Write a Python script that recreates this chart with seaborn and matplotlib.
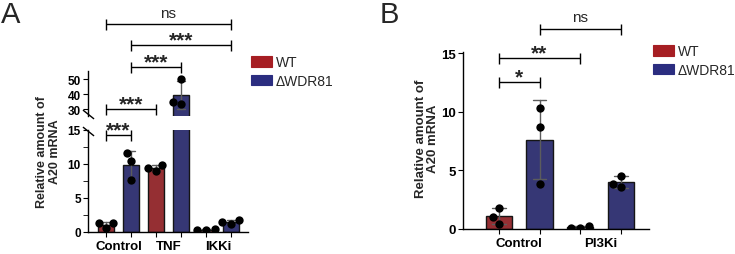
import matplotlib
matplotlib.use("Agg")
import matplotlib.pyplot as plt
import pandas as pd
import seaborn as sns
from matplotlib.patches import Patch
from matplotlib.transforms import blended_transform_factory

# data (3 replicates per bar)
genotypes = ["WT", "ΔWDR81"]
colors = {"WT": "#A61E23", "ΔWDR81": "#2B2D80"}

groups_a = ["Control", "TNF", "IKKi"]
reps_a = [
    [1.35, 1.3, 0.55], [11.6, 10.5, 7.6],
    [9.85, 9.4, 8.9], [50.0, 35.0, 33.5],
    [0.5, 0.3, 0.25], [1.8, 1.4, 1.25],
]
groups_b = ["Control", "PI3Ki"]
reps_b = [
    [1.8, 1.0, 0.45], [10.35, 8.7, 3.85],
    [0.25, 0.12, 0.06], [4.55, 3.8, 3.6],
]

# significance brackets: (bar1, bar2, label)
sig_a = [(0, 1, "***"), (0, 2, "***"), (1, 3, "***"), (1, 5, "***"), (0, 5, "ns")]
sig_b = [(0, 1, "*"), (0, 2, "**"), (1, 3, "ns")]
# bracket heights in figure pixels from top
sig_a_px = [136, 110, 68, 46, 25]
sig_b_px = [83, 59, 30]

W, H = 735, 255
YLABEL = "Relative amount of\nA20 mRNA"


def make_frame(groups, reps):
    rows = []
    i = 0
    for g in groups:
        for gt in genotypes:
            for v in reps[i]:
                rows.append({"cond": f"{g} {gt}", "genotype": gt, "value": v})
            i += 1
    return pd.DataFrame(rows)


def draw_bars(ax, df, order):
    sns.barplot(data=df, x="cond", y="value", hue="genotype", order=order,
                hue_order=genotypes, palette=colors, dodge=False, width=0.64,
                errorbar="sd", capsize=0.34,
                err_kws={"color": "#5c5c5c", "linewidth": 1.0},
                edgecolor="#151515", linewidth=1.0, legend=False, ax=ax)
    sns.swarmplot(data=df, x="cond", y="value", order=order, color="black",
                  size=6, ax=ax)
    ax.set_xlabel("")
    ax.set_ylabel("")
    ax.patch.set_visible(False)
    sns.despine(ax=ax)


def set_group_ticks(ax, groups):
    n = len(groups) * 2
    ax.set_xticks(range(n))
    ax.set_xticklabels([""] * n)
    ax.set_xticks([2 * i + 0.5 for i in range(len(groups))], labels=groups, minor=True)
    ax.tick_params(axis="x", which="minor", length=0, pad=6, labelsize=9.5)


def bracket(fig, ax, x1, x2, ypx, label):
    tr = blended_transform_factory(ax.transData, fig.transFigure)
    y = 1 - ypx / H
    h = 5.5 / H
    kw = dict(transform=tr, color="black", lw=1.0, clip_on=False, solid_capstyle="butt")
    ax.plot([x1, x2], [y, y], **kw)
    ax.plot([x1, x1], [y - h, y + h], **kw)
    ax.plot([x2, x2], [y - h, y + h], **kw)
    if label == "ns":
        ax.text((x1 + x2) / 2, y + 7.5 / H, label, transform=tr, ha="center",
                va="baseline", fontsize=11, fontweight="normal")
    else:
        ax.text((x1 + x2) / 2, y - 0.5 / H, label, transform=tr, ha="center",
                va="baseline", fontsize=15, fontweight="bold")


sns.set_style("ticks")
plt.rcParams["font.family"] = ["Liberation Sans", "DejaVu Sans"]
plt.rcParams["font.weight"] = "bold"
plt.rcParams["axes.linewidth"] = 1.0
plt.rcParams["xtick.major.size"] = 3.6
plt.rcParams["ytick.major.size"] = 3.6
plt.rcParams["ytick.minor.size"] = 3.6
plt.rcParams["xtick.color"] = "black"
plt.rcParams["ytick.color"] = "black"
plt.rcParams["axes.edgecolor"] = "black"

fig = plt.figure(figsize=(W / 100, H / 100), dpi=100)

# ---------- panel A (broken axis) ----------
df_a = make_frame(groups_a, reps_a)
order_a = [f"{g} {gt}" for g in groups_a for gt in genotypes]

ax_lo = fig.add_axes([88 / W, 1 - 233 / H, 160 / W, 102 / H])
ax_hi = fig.add_axes([88 / W, 1 - 117 / H, 160 / W, 45 / H], sharex=ax_lo)
draw_bars(ax_lo, df_a, order_a)
draw_bars(ax_hi, df_a, order_a)

ax_lo.set_ylim(0, 15)
ax_lo.set_yticks([0, 5, 10, 15])
ax_lo.set_yticks([2.5, 7.5, 12.5], minor=True)
ax_hi.set_ylim(25.5, 55.5)
ax_hi.set_yticks([30, 40, 50])
ax_lo.set_xlim(-0.72, 5.68)
set_group_ticks(ax_lo, groups_a)
ax_hi.spines["bottom"].set_visible(False)
ax_hi.tick_params(axis="x", which="both", bottom=False, labelbottom=False)
for ax in (ax_lo, ax_hi):
    ax.tick_params(axis="y", labelsize=8.5, pad=1.5)

# break marks on the y spine
mk = dict(marker=[(-1, 0.8), (1, -0.8)], markersize=8, linestyle="none",
          color="black", mec="black", mew=1.0, clip_on=False)
ax_hi.plot([0], [0.04], transform=ax_hi.transAxes, **mk)
ax_lo.plot([0], [0.99], transform=ax_lo.transAxes, **mk)

for (i, j, lab), ypx in zip(sig_a, sig_a_px):
    bracket(fig, ax_lo, i, j, ypx, lab)

fig.text(48.5 / W, 1 - 152 / H, YLABEL, rotation=90, ha="center", va="center",
         multialignment="center", fontsize=9, fontweight="bold", linespacing=1.05)

# ---------- panel B ----------
df_b = make_frame(groups_b, reps_b)
order_b = [f"{g} {gt}" for g in groups_b for gt in genotypes]
ax_b = fig.add_axes([463 / W, 1 - 230 / H, 186 / W, 177 / H])
draw_bars(ax_b, df_b, order_b)
ax_b.set_ylim(0, 15.1)
ax_b.set_yticks([0, 5, 10, 15])
ax_b.set_xlim(-0.88, 3.69)
set_group_ticks(ax_b, groups_b)
ax_b.tick_params(axis="y", labelsize=9.5, pad=1.5)

for (i, j, lab), ypx in zip(sig_b, sig_b_px):
    bracket(fig, ax_b, i, j, ypx, lab)

fig.text(427 / W, 1 - 139 / H, YLABEL, rotation=90, ha="center", va="center",
         multialignment="center", fontsize=9.5, fontweight="bold", linespacing=1.05)

# ---------- legends & panel letters ----------
handles = [Patch(facecolor=colors[g], edgecolor=colors[g], linewidth=0.8) for g in genotypes]
for lx, ly in [(251, 56.5), (653, 45.5)]:
    fig.legend(handles, genotypes, loc="upper left", bbox_to_anchor=(lx / W, 1 - ly / H),
               frameon=False, handlelength=1.5, handleheight=0.8, handletextpad=0.3,
               labelspacing=0.32, borderaxespad=0, borderpad=0,
               prop={"size": 10, "weight": "normal"})

fig.text(1 / W, 1 - 1 / H, "A", fontsize=21, fontweight="normal", ha="left", va="top")
fig.text(380 / W, 1 - 1 / H, "B", fontsize=21, fontweight="normal", ha="left", va="top")

fig.savefig("out.png", dpi=100)
